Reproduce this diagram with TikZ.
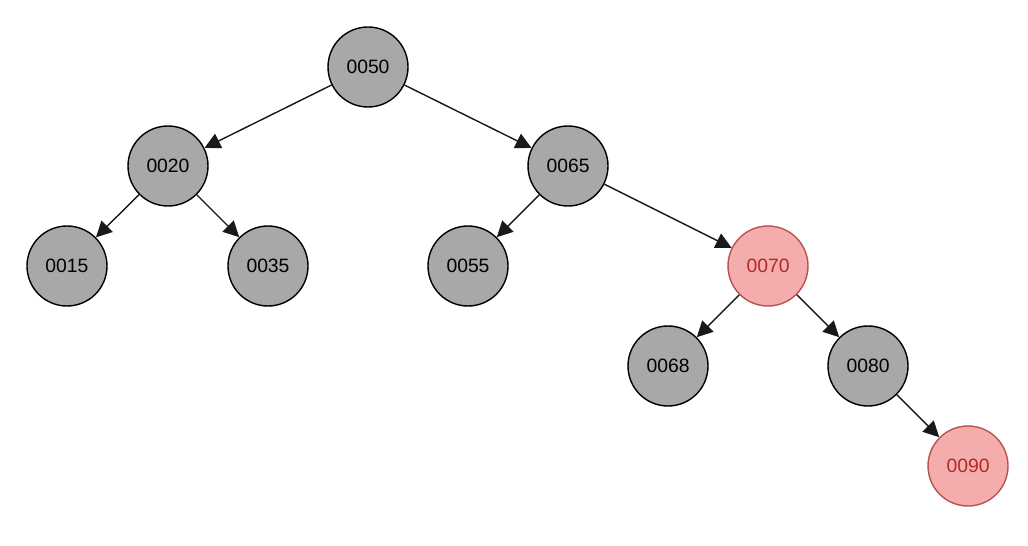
\documentclass[tikz,border=0pt]{standalone}
\usepackage{fontspec}
\setmainfont{Liberation Sans}
\usetikzlibrary{arrows.meta}
\definecolor{nodegray}{HTML}{A8A8A8}
\definecolor{hlfill}{HTML}{F4ACAC}
\definecolor{hldraw}{HTML}{B85450}
\definecolor{hltext}{HTML}{B02A2A}
\tikzset{nd/.style={circle,draw=black,fill=nodegray,line width=.8pt,minimum size=1.6cm,inner sep=0pt,font=\fontsize{11}{13}\selectfont},hl/.style={nd,draw=hldraw,fill=hlfill,text=hltext},arr/.style={-{Triangle[length=9pt,width=9pt]},line width=.8pt,draw=black!90,fill=black}}

\begin{document}
\begin{tikzpicture}
\useasboundingbox (0,0) rectangle (20.56,-10.92);
\node[nd] (n50) at (7.36,-1.34) {0050};\node[nd] (n20) at (3.36,-3.32) {0020};\node[nd] (n65) at (11.36,-3.32) {0065};
\node[nd] (n15) at (1.34,-5.32) {0015};\node[nd] (n35) at (5.36,-5.32) {0035};\node[nd] (n55) at (9.36,-5.32) {0055};\node[hl] (n70) at (15.36,-5.32) {0070};
\node[nd] (n68) at (13.36,-7.32) {0068};\node[nd] (n80) at (17.36,-7.32) {0080};\node[hl] (n90) at (19.36,-9.32) {0090};
\draw[arr] (n50)--(n20);\draw[arr] (n50)--(n65);\foreach \u in {n15,n35}\draw[arr] (n20)--(\u);
\foreach \u in {n55,n70}\draw[arr] (n65)--(\u);\foreach \u in {n68,n80}\draw[arr] (n70)--(\u);\draw[arr] (n80)--(n90);
\end{tikzpicture}
\end{document}
